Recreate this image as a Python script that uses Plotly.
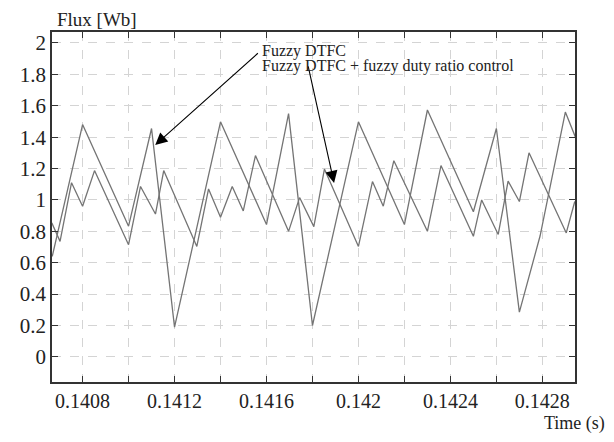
import plotly.graph_objects as go

# --- data ---
t_dtfc = [0.140668, 0.1408, 0.1410, 0.14110, 0.1412, 0.1414, 0.1416, 0.141696,
          0.1418, 0.1420, 0.1422, 0.1423, 0.1425, 0.1426, 0.1427, 0.14279,
          0.1429, 0.142944]
flux_dtfc = [0.64, 1.48, 0.833, 1.455, 0.19, 1.498, 0.843, 1.55,
             0.2, 1.498, 0.843, 1.573, 0.925, 1.455, 0.285, 0.77,
             1.56, 1.40]

t_duty = [0.140666, 0.140702, 0.140752, 0.1408, 0.140852, 0.1410, 0.141052,
          0.141117, 0.141153, 0.141297, 0.141348, 0.1414, 0.141451, 0.141499,
          0.141552, 0.141696, 0.141744, 0.141806, 0.141852, 0.1420, 0.142061,
          0.142108, 0.142154, 0.1423, 0.142359, 0.1425, 0.142536, 0.142608,
          0.142651, 0.1427, 0.142742, 0.142904, 0.142941]
flux_duty = [0.854, 0.736, 1.11, 0.96, 1.187, 0.715, 1.086,
             0.91, 1.187, 0.704, 1.07, 0.89, 1.086, 0.93,
             1.283, 0.80, 1.015, 0.83, 1.197, 0.704, 1.117,
             0.96, 1.25, 0.80, 1.219, 0.768, 1.0, 0.78,
             1.12, 0.99, 1.30, 0.79, 0.99]

x_tickvals = [0.1408, 0.1410, 0.1412, 0.1414, 0.1416, 0.1418, 0.1420,
              0.1422, 0.1424, 0.1426, 0.1428]
x_ticktext = ["0.1408", "", "0.1412", "", "0.1416", "", "0.142",
              "", "0.1424", "", "0.1428"]
y_tickvals = [0, 0.2, 0.4, 0.6, 0.8, 1.0, 1.2, 1.4, 1.6, 1.8, 2.0]
y_ticktext = ["0", "0.2", "0.4", "0.6", "0.8", "1", "1.2", "1.4", "1.6", "1.8", "2"]

series_names = ["Fuzzy DTFC", "Fuzzy DTFC + fuzzy duty ratio control"]
arrow_tips = [(0.141116, 1.35), (0.141894, 1.108)]
arrow_tails = [(0.141569, 1.943), (0.14178, 1.86)]

FONT = "Liberation Serif"
LINE = "#747474"

# the page body has an 8px margin on every side: size the figure so it fits the
# window without scrolling and the plot lands where the reference has it
OFF = 8
W, H = 614 - OFF, 442 - 2 * OFF
PL, PR, PT, PB = 49, 575, 32, 382  # plot-area edges in page pixels

fig = go.Figure()
fig.add_trace(go.Scatter(x=t_dtfc, y=flux_dtfc, mode="lines", name=series_names[0],
                         line=dict(color=LINE, width=1.3)))
fig.add_trace(go.Scatter(x=t_duty, y=flux_duty, mode="lines", name=series_names[1],
                         line=dict(color=LINE, width=1.3)))


def px(xp):
    return (xp - PL) / (PR - PL)


def py(yp):
    return (PB - yp) / (PB - PT)


annotations = []
for (tx, ty), (ax, ay) in zip(arrow_tips, arrow_tails):
    annotations.append(dict(x=tx, y=ty, ax=ax, ay=ay, xref="x", yref="y",
                            axref="x", ayref="y", text="", showarrow=True,
                            arrowhead=2, arrowsize=2.2, arrowwidth=1.1,
                            arrowcolor="black", standoff=0, startstandoff=0))
annotations.append(dict(x=px(258), y=py(51), xref="paper", yref="paper",
                        text=series_names[0], showarrow=False, xanchor="left", yanchor="middle",
                        font=dict(family=FONT, size=16, color="#222")))
annotations.append(dict(x=px(258), y=py(66), xref="paper", yref="paper",
                        text=series_names[1], showarrow=False, xanchor="left", yanchor="middle",
                        font=dict(family=FONT, size=16, color="#222")))
annotations.append(dict(x=px(52), y=py(19), xref="paper", yref="paper",
                        text="Flux [Wb]", showarrow=False, xanchor="left", yanchor="middle",
                        font=dict(family=FONT, size=19, color="#222")))
annotations.append(dict(x=px(607), y=py(423), xref="paper", yref="paper",
                        text="Time (s)", showarrow=False, xanchor="right", yanchor="middle",
                        font=dict(family=FONT, size=18, color="#222")))

fig.update_layout(
    width=W, height=H,
    margin=dict(l=PL - OFF, r=(OFF + W) - PR, t=PT - OFF, b=(OFF + H) - PB),
    paper_bgcolor="white", plot_bgcolor="white",
    showlegend=False,
    annotations=annotations,
    xaxis=dict(range=[0.140667, 0.142942], tickvals=x_tickvals, ticktext=x_ticktext,
               ticks="inside", ticklen=6, tickcolor="#333", mirror="ticks",
               showline=True, linecolor="#333", linewidth=1.5,
               showgrid=True, gridcolor="#d4d4d4", griddash="dash", gridwidth=1,
               zeroline=False, tickfont=dict(family=FONT, size=20, color="#222")),
    yaxis=dict(range=[-0.16, 2.07], tickvals=y_tickvals, ticktext=y_ticktext,
               ticks="inside", ticklen=6, tickcolor="#333", mirror="ticks",
               showline=True, linecolor="#333", linewidth=1.5,
               showgrid=True, gridcolor="#d4d4d4", griddash="dash", gridwidth=1,
               zeroline=False, tickfont=dict(family=FONT, size=21, color="#222")),
)

fig.write_html("out.html")
